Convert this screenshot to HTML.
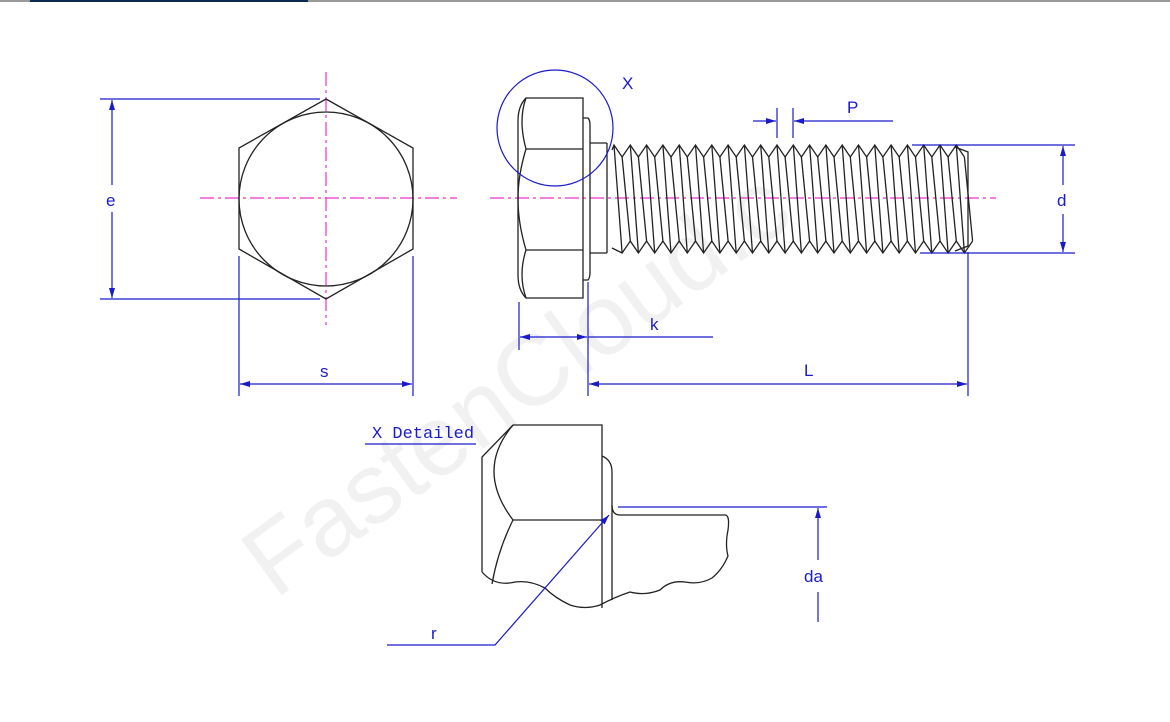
<!DOCTYPE html>
<html><head><meta charset="utf-8"><style>
html,body{margin:0;padding:0;background:#fff;}
svg{display:block;}
text{font-family:"Liberation Sans",sans-serif;fill:#1a1acc;}
</style></head><body>
<svg id="s" width="1170" height="722" viewBox="0 0 1170 722" xmlns="http://www.w3.org/2000/svg">
<defs>
<marker id="a" viewBox="0 0 10 6" refX="10" refY="3" markerWidth="10" markerHeight="6" orient="auto-start-reverse" markerUnits="userSpaceOnUse"><path d="M0,0 L10,3 L0,6z" fill="#1a1acc"/></marker>
</defs>
<line x1="0" y1="1" x2="1170" y2="1" stroke="#999" stroke-width="2"/>
<line x1="30" y1="1" x2="308" y2="1" stroke="#0d2a55" stroke-width="2"/>
<text x="275" y="600" transform="rotate(-36 275 600)" style="font-size:100px;fill:#f1f1f1">FastenCloud.c</text>

<g stroke="#ee33cc" stroke-width="1.2" stroke-dasharray="14,4,3,4" fill="none">
<line x1="200" y1="198" x2="457" y2="198"/>
<line x1="326" y1="72" x2="326" y2="325"/>
<line x1="490" y1="198" x2="996" y2="198"/>
</g>

<g stroke="#222" stroke-width="1.3" fill="none">
<polygon points="326,99 413,148 413,249 326,299 239,249 239,148"/>
<circle cx="326" cy="199" r="87"/>
<path d="M526,98 L583,98 L583,298 L526,298 Q518,290 518,275 L518,121 Q518,106 526,98Z"/>
<path d="M526,149 L583,149 M526,250 L583,250"/>
<path d="M526,98 Q518,120 526,149 Q518,175 518,199 Q518,223 526,250 Q518,275 526,298"/>
<path d="M583,118 L588,118 Q590,120 590,125 L590,272 Q590,278 588,280 L583,280"/>
<path d="M590,143 L607,143 M590,253 L607,253"/>
<path d="M607,143 L607,253"/>
<g id="thr"></g>
<path d="M955,147 L968,152 L968,246 L955,251"/>
<path d="M513,425 L602,425 L602,608"/>
<path d="M513,425 L482,457 L482,572"/>
<path d="M513,425 Q475,470 513,520 L602,520"/>
<path d="M513,520 Q498,550 492,584"/>
<path d="M602,456 Q612,460 612,472 L612,600"/>
<path d="M612,505 Q612,515 620,515 L725,515 Q730,515 728,530 Q725,545 728,556 Q722,570 712,578 Q700,585 685,582 Q670,580 660,590 Q645,596 630,592 Q615,597 600,605 Q585,610 570,605 Q555,598 545,588 Q530,580 515,582 Q495,587 482,572"/>
</g>

<g stroke="#1a1acc" stroke-width="1.2" fill="none">
<line x1="100" y1="99" x2="320" y2="99"/>
<line x1="100" y1="299" x2="320" y2="299"/>
<line x1="112" y1="100" x2="112" y2="185" marker-start="url(#a)"/>
<line x1="112" y1="212" x2="112" y2="298" marker-end="url(#a)"/>
<line x1="239" y1="256" x2="239" y2="396"/>
<line x1="413" y1="256" x2="413" y2="396"/>
<line x1="240" y1="384" x2="412" y2="384" marker-start="url(#a)" marker-end="url(#a)"/>
<circle cx="555" cy="128" r="58"/>
<line x1="777" y1="108" x2="777" y2="138"/>
<line x1="793" y1="108" x2="793" y2="138"/>
<line x1="753" y1="121" x2="776" y2="121" marker-end="url(#a)"/>
<line x1="893" y1="121" x2="794" y2="121" marker-end="url(#a)"/>
<line x1="912" y1="145" x2="1075" y2="145"/>
<line x1="920" y1="253" x2="1075" y2="253"/>
<line x1="1063" y1="185" x2="1063" y2="146" marker-end="url(#a)"/>
<line x1="1063" y1="214" x2="1063" y2="252" marker-end="url(#a)"/>
<line x1="519" y1="302" x2="519" y2="350"/>
<line x1="588" y1="282" x2="588" y2="396"/>
<line x1="968" y1="252" x2="968" y2="396"/>
<line x1="520" y1="337" x2="587" y2="337" marker-start="url(#a)" marker-end="url(#a)"/>
<line x1="588" y1="337" x2="713" y2="337"/>
<line x1="589" y1="384" x2="967" y2="384" marker-start="url(#a)" marker-end="url(#a)"/>
<line x1="365" y1="444" x2="476" y2="444"/>
<line x1="618" y1="507" x2="827" y2="507"/>
<line x1="818" y1="560" x2="818" y2="508" marker-end="url(#a)"/>
<line x1="818" y1="592" x2="818" y2="622"/>
<polyline points="387,645 495,645 609,515" marker-end="url(#a)"/>
</g>

<g style="font-size:17px">
<text x="106" y="206">e</text>
<text x="320" y="377">s</text>
<text x="622" y="89">X</text>
<text x="847" y="113">P</text>
<text x="1057" y="206">d</text>
<text x="650" y="330">k</text>
<text x="804" y="376">L</text>
<text x="372" y="438" style="font-family:'Liberation Mono',monospace;font-size:17px">X Detailed</text>
<text x="804" y="582">da</text>
<text x="431" y="639">r</text>
</g>
</svg>
<script>
var g=document.getElementById('thr'),d='',p=16.3;
var tz='M612,150',bz='M612,248';
for(var x=614;x<958;x+=p){
 tz+=' L'+x.toFixed(1)+',145 L'+(x+p/2).toFixed(1)+',157';
 bz+=' L'+(x+p/2).toFixed(1)+',253 L'+(x+p).toFixed(1)+',241';
 d+=' M'+x.toFixed(1)+',145 L'+(x+p/2).toFixed(1)+',253';
 d+=' M'+(x+p/2).toFixed(1)+',157 L'+(x+p).toFixed(1)+',241';
}
var ns='http://www.w3.org/2000/svg';
[tz,bz,d].forEach(function(s){var e=document.createElementNS(ns,'path');e.setAttribute('d',s);g.appendChild(e);});
</script>
</body></html>
